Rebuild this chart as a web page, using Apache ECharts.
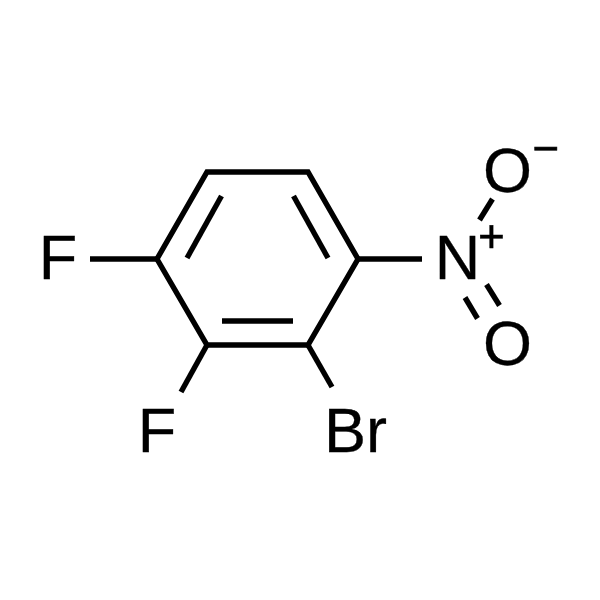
<!DOCTYPE html>
<html>
<head>
<meta charset="utf-8">
<style>html,body{margin:0;padding:0;background:#fff}#c{width:600px;height:600px}</style>
<script src="https://cdn.jsdelivr.net/npm/echarts@6/dist/echarts.min.js"></script>
</head>
<body>
<div id="c"></div>
<script>
// Ring outline (last two points repeat so that every corner is joined)
var ringAtoms = [[207,172],[308,172],[358,259],[308,345],[207,345],[157,259],[207,172],[308,172]];
// Inner lines of the ring double bonds
var innerBonds = [
  [[293.5,196],[328,258]],
  [[222,321],[293,321]],
  [[221.5,196],[187,258]]
];
// Bonds to substituents
var sideBonds = [
  [[358,259],[422,259]],
  [[157,259],[90,259]],
  [[207,345],[181,392]],
  [[308,345],[332,387]],
  [[479.5,220],[492.5,199]],
  [[486.5,284.5],[499.5,305.5]],
  [[465,297.5],[477.5,318.5]]
];
// Atom labels: x, y, text
var atomLabels = [
  [58,262,'F'],
  [157,435,'F'],
  [355.5,435,'Br'],
  [457.5,262,'N'],
  [507.5,175,'O'],
  [507.5,348,'O']
];
// Charges: x, y, text
var chargeLabels = [
  [491.5,239,'+'],
  [546,151,'\u2212']
];

function bond(pts){
  return {type:'line', data:pts, symbol:'none', silent:true, animation:false,
    lineStyle:{color:'#000', width:5.4, cap:'butt', join:'miter'}};
}
function textSeries(rows, size, border){
  return {type:'scatter', symbolSize:0, silent:true, animation:false,
    itemStyle:{opacity:1},
    data:rows.map(function(r){return {value:[r[0],r[1]], name:r[2]};}),
    label:{show:true, position:'inside', align:'center', verticalAlign:'middle',
      fontFamily:'Liberation Sans', fontSize:size, color:'#000', opacity:1,
      textBorderColor:'#000', textBorderWidth:border,
      formatter:function(p){return p.name;}}};
}
var series = [bond(ringAtoms)]
  .concat(innerBonds.map(function(b){return bond(b);}))
  .concat(sideBonds.map(function(b){return bond(b);}))
  .concat([textSeries(atomLabels,63,0.3), textSeries(chargeLabels,46,0.5)]);

var chart = echarts.init(document.getElementById('c'));
chart.setOption({
  animation:false,
  backgroundColor:'#fff',
  grid:{left:0,right:0,top:0,bottom:0},
  xAxis:{type:'value',min:0,max:600,show:false},
  yAxis:{type:'value',min:0,max:600,inverse:true,show:false},
  series:series
});
</script>
</body>
</html>
